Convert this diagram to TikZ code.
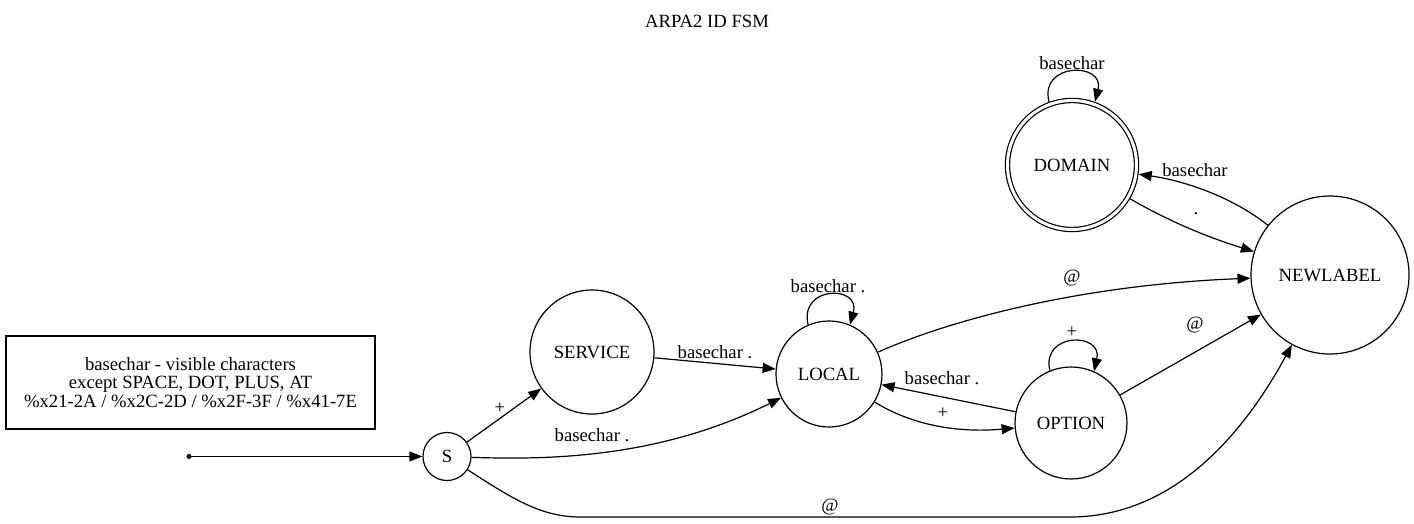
\documentclass[tikz,border=0pt]{standalone}
\usepackage{fontspec}
\setmainfont{Liberation Serif}
\usetikzlibrary{arrows.meta}
\begin{document}
\begin{tikzpicture}[x=1pt,y=-1pt,
  every node/.style={font=\fontsize{18.67}{22}\selectfont},
  st/.style={draw, circle, line width=1.2pt, inner sep=0pt},
  edge/.style={line width=1.2pt, -{Triangle[length=13pt,width=10pt]}},
  lbl/.style={inner sep=0pt}]
\useasboundingbox (0,0) rectangle (1414,523);
\node (title) at (707,21) {ARPA2 ID FSM};
\node[draw, rectangle, line width=1.2pt, minimum width=369pt, minimum height=93pt, align=center, font=\fontsize{18.67}{18.7}\selectfont] (legend) at (190.5,382.5) {basechar - visible characters\\except SPACE, DOT, PLUS, AT\\\%x21-2A / \%x2C-2D / \%x2F-3F / \%x41-7E};
\coordinate (start) at (189,456.5);
\fill (start) circle (2.5pt);
\node[st, minimum size=48pt] (S) at (447,456.5) {S};
\node[st, minimum size=124pt] (SERVICE) at (592,352) {SERVICE};
\node[st, minimum size=106pt] (LOCAL) at (829,374) {LOCAL};
\node[st, minimum size=112pt] (OPTION) at (1071,423) {OPTION};
\node[st, minimum size=158pt] (NEWLABEL) at (1330,275) {NEWLABEL};
\node[st, minimum size=129pt, double, double distance=3pt, outer sep=2.8pt] (DOMAIN) at (1072,165) {DOMAIN};
\draw[edge] (start) -- (S);
\draw[edge] (S) -- (SERVICE) node[lbl] at (500,408) {+};
\draw[edge] (SERVICE) -- (LOCAL) node[lbl] at (715,352) {basechar .};
\draw[edge] (S) .. controls (550,460) and (660,458) .. (LOCAL) node[lbl] at (592,435) {basechar .};
\draw[edge] (S) .. controls (510,497) and (540,517) .. (580,517) -- (1070,517) .. controls (1170,517) and (1240,440) .. (NEWLABEL) node[lbl] at (830,507) {@};
\draw[edge] (LOCAL.113) .. controls (799,285) and (861,285) .. (LOCAL.67) node[lbl] at (828,286) {basechar .};
\draw[edge] (LOCAL) .. controls (950,320) and (1080,285) .. (NEWLABEL) node[lbl] at (1072,278) {@};
\draw[edge] (LOCAL) .. controls (920,430) and (970,432) .. (OPTION) node[lbl] at (943,413) {+};
\draw[edge] (OPTION) -- (LOCAL) node[lbl] at (942,378) {basechar .};
\draw[edge] (OPTION.112) .. controls (1041,332) and (1103,332) .. (OPTION.66) node[lbl] at (1072,332) {+};
\draw[edge] (OPTION) -- (NEWLABEL) node[lbl] at (1195,325) {@};
\draw[edge] (DOMAIN.110) .. controls (1039,62) and (1105,62) .. (DOMAIN.70) node[lbl] at (1072,63) {basechar};
\draw[edge] (NEWLABEL) .. controls (1230,195) and (1180,180) .. (DOMAIN) node[lbl] at (1195,170) {basechar};
\draw[edge] (DOMAIN) .. controls (1170,222) and (1210,238) .. (NEWLABEL) node[lbl, anchor=base] at (1196,214) {.};
\end{tikzpicture}
\end{document}
